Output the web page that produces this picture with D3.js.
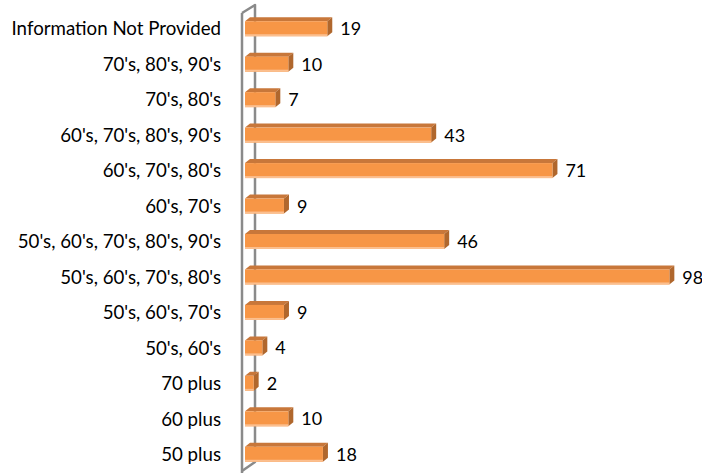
<!DOCTYPE html>
<html>
<head>
<meta charset="utf-8">
<script src="https://cdn.jsdelivr.net/npm/d3@7"></script>
<style>
  html, body { margin: 0; padding: 0; background: #fff; }
  svg { display: block; }
</style>
</head>
<body>
<svg id="chart" width="702" height="473"></svg>
<script>
// Decades of experience, number of respondents per group (top to bottom)
const categories = [
  "Information Not Provided",
  "70's, 80's, 90's",
  "70's, 80's",
  "60's, 70's, 80's, 90's",
  "60's, 70's, 80's",
  "60's, 70's",
  "50's, 60's, 70's, 80's, 90's",
  "50's, 60's, 70's, 80's",
  "50's, 60's, 70's",
  "50's, 60's",
  "70 plus",
  "60 plus",
  "50 plus"
];
const counts = [19, 10, 7, 43, 71, 9, 46, 98, 9, 4, 2, 10, 18];

const svg = d3.select("#chart");
const W = 702, H = 473;

const x = d3.scaleLinear().domain([0, 100]).range([245, 678]);
const y = d3.scalePoint().domain(categories).range([11, 472]).padding(0.5);

const barH = 15;   // front face height
const dx = 5, dy = 4; // 3-D depth offset

const data = categories.map((c, i) => ({ cat: c, val: counts[i] }));

// back edge of the axis wall
const wallFront = 242, wallBack = 255;
svg.append("path")
  .attr("d", `M${wallFront},13 L${wallBack},5 L${wallBack},462 L${wallFront},471`)
  .attr("fill", "none")
  .attr("stroke", "#8a8a8a")
  .attr("stroke-width", 2.5)
  .attr("stroke-linejoin", "round");

const bars = svg.append("g").selectAll("g").data(data).join("g");

bars.each(function(d) {
  const g = d3.select(this);
  const x0 = x(0), x1 = x(d.val);
  const yt = y(d.cat) - barH / 2, yb = yt + barH;
  // top face
  g.append("path")
    .attr("d", `M${x0},${yt} L${x0 + dx},${yt - dy} L${x1 + dx},${yt - dy} L${x1},${yt} Z`)
    .attr("fill", "#c8773a");
  // side face
  g.append("path")
    .attr("d", `M${x1},${yt} L${x1 + dx},${yt - dy} L${x1 + dx},${yb - dy} L${x1},${yb} Z`)
    .attr("fill", "#b0672d");
  // front face
  g.append("rect")
    .attr("x", x0).attr("y", yt)
    .attr("width", x1 - x0).attr("height", barH)
    .attr("fill", "#f79646");
  // light lower edge
  g.append("rect")
    .attr("x", x0).attr("y", yb - 2)
    .attr("width", x1 - x0).attr("height", 2)
    .attr("fill", "#fbbf8f");
});

// front edge of the axis wall
svg.append("line")
  .attr("x1", wallFront).attr("x2", wallFront)
  .attr("y1", 13).attr("y2", H)
  .attr("stroke", "#8a8a8a")
  .attr("stroke-width", 2.5);

// category labels
svg.append("g").selectAll("text").data(data).join("text")
  .attr("x", 221)
  .attr("y", d => y(d.cat) + 2)
  .attr("text-anchor", "end")
  .attr("dominant-baseline", "middle")
  .attr("font-family", "Lato, sans-serif")
  .attr("font-size", 18.7)
  .attr("fill", "#000")
  .text(d => d.cat);

// value labels
svg.append("g").selectAll("text").data(data).join("text")
  .attr("x", d => x(d.val) + 13)
  .attr("y", d => y(d.cat) + 2)
  .attr("dominant-baseline", "middle")
  .attr("font-family", "Lato, sans-serif")
  .attr("font-size", 18)
  .attr("fill", "#000")
  .text(d => d.val);
</script>
</body>
</html>
